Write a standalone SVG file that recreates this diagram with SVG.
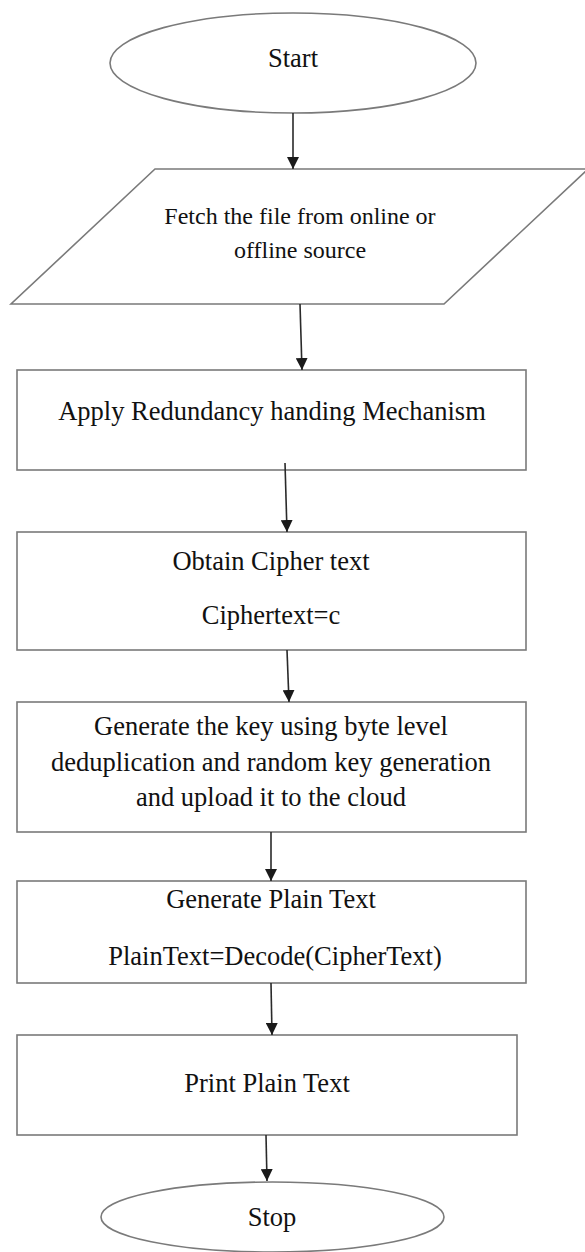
<svg xmlns="http://www.w3.org/2000/svg" width="585" height="1252" viewBox="0 0 585 1252">
<defs>
<style>
.shape{fill:#fff;stroke:#7a7a7a;stroke-width:1.6}
.lbl{font-family:"Liberation Serif","Times New Roman",serif;font-size:26.5px;fill:#111;text-anchor:middle}
.small{font-size:24px}
.conn{stroke:#2a2a2a;stroke-width:1.6;fill:none}
</style>
<marker id="ah" viewBox="0 0 12 12" refX="12" refY="6" markerWidth="12" markerHeight="12" markerUnits="userSpaceOnUse" orient="auto">
<path d="M0,0 L12,6 L0,12 Z" fill="#1a1a1a"/>
</marker>
</defs>
<rect width="585" height="1252" fill="#fff"/>
<g id="start">
<ellipse class="shape" cx="293" cy="63" rx="183" ry="50"/>
<text class="lbl" x="293" y="67">Start</text>
</g>
<g id="fetch">
<polygon class="shape" points="155,169 588,169 444,304 11,304"/>
<text class="lbl small" x="300" y="224">Fetch the file from online or</text>
<text class="lbl small" x="300" y="258">offline source</text>
</g>
<g id="redundancy">
<rect class="shape" x="17" y="370" width="509" height="100"/>
<text class="lbl" x="272" y="420">Apply Redundancy handing Mechanism</text>
</g>
<g id="cipher">
<rect class="shape" x="17" y="532" width="509" height="118"/>
<text class="lbl" x="271" y="570">Obtain Cipher text</text>
<text class="lbl" x="271" y="624">Ciphertext=c</text>
</g>
<g id="keygen">
<rect class="shape" x="17" y="702" width="509" height="130"/>
<text class="lbl" x="271" y="735">Generate the key using byte level</text>
<text class="lbl" x="271" y="771">deduplication and random key generation</text>
<text class="lbl" x="271" y="806">and upload it to the cloud</text>
</g>
<g id="plain">
<rect class="shape" x="17" y="881" width="509" height="102"/>
<text class="lbl" x="271" y="908">Generate Plain Text</text>
<text class="lbl" x="275" y="965">PlainText=Decode(CipherText)</text>
</g>
<g id="print">
<rect class="shape" x="17" y="1035" width="500" height="100"/>
<text class="lbl" x="267" y="1092">Print Plain Text</text>
</g>
<g id="stop">
<ellipse class="shape" cx="272.5" cy="1217" rx="171.5" ry="35"/>
<text class="lbl" x="272" y="1226">Stop</text>
</g>
<g id="connectors">
<line class="conn" x1="293" y1="113" x2="293" y2="169" marker-end="url(#ah)"/>
<line class="conn" x1="300" y1="304" x2="302" y2="370" marker-end="url(#ah)"/>
<line class="conn" x1="285" y1="463" x2="287" y2="532" marker-end="url(#ah)"/>
<line class="conn" x1="287" y1="650" x2="289" y2="702" marker-end="url(#ah)"/>
<line class="conn" x1="271" y1="832" x2="271" y2="881" marker-end="url(#ah)"/>
<line class="conn" x1="271" y1="983" x2="272" y2="1035" marker-end="url(#ah)"/>
<line class="conn" x1="266" y1="1135" x2="267" y2="1181" marker-end="url(#ah)"/>
</g>
</svg>
